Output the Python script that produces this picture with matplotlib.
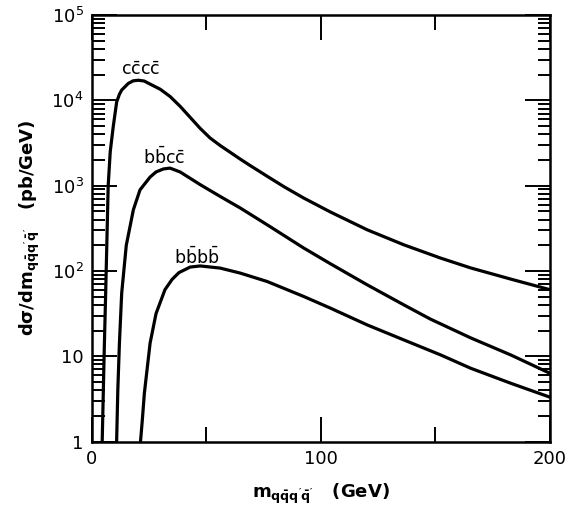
import numpy as np
import matplotlib
matplotlib.use("Agg")
import matplotlib.pyplot as plt
from matplotlib.ticker import FixedLocator, FixedFormatter, MultipleLocator, LogLocator, NullFormatter

plt.rcParams["font.family"] = ["DejaVu Sans"]
plt.rcParams["mathtext.default"] = "regular"

# curves: mass (GeV) and log10(dsigma/dm)
cccc_m = [4.4, 4.9, 5.4, 6.0, 7.1, 8.0, 9.3, 10.8, 12.0, 13.0, 15.9, 18.0, 20.3, 22.8, 25.4, 29.8, 34.1,
          38.5, 42.9, 47.3, 51.6, 56.0, 60.4, 64.8, 69.1, 76.5, 84.0, 92.5, 104.2, 120.2, 136.2,
          152.3, 165.4, 182.9, 200.0]
cccc_log = [-0.1, 0.5, 1.1, 1.74, 3.0, 3.4, 3.69, 3.98, 4.07, 4.12, 4.198, 4.228, 4.235, 4.226, 4.19, 4.13, 4.045,
            3.93, 3.80, 3.67, 3.558, 3.47, 3.39, 3.31, 3.235, 3.11, 2.985, 2.854, 2.69, 2.482, 2.306,
            2.15, 2.035, 1.904, 1.78]

bbcc_m = [10.7, 11.3, 12.0, 13.0, 15.0, 18.1, 21.0, 25.4, 28.0, 31.2, 34.1, 38.5, 47.3, 56.0, 64.8,
          76.5, 92.5, 104.2, 120.2, 136.2, 147.9, 165.4, 182.9, 200.0]
bbcc_log = [-0.1, 0.6, 1.15, 1.74, 2.3, 2.717, 2.95, 3.10, 3.16, 3.195, 3.205, 3.16, 3.011, 2.873, 2.737,
            2.541, 2.268, 2.083, 1.837, 1.602, 1.434, 1.215, 1.015, 0.80]

bbbb_m = [20.9, 22.0, 22.9, 25.4, 28.0, 31.9, 35.0, 38.0, 42.9, 47.3, 56.0, 64.8, 76.5, 92.5, 104.2,
          120.2, 136.2, 152.3, 165.4, 182.9, 200.0]
bbbb_log = [-0.1, 0.25, 0.566, 1.153, 1.5, 1.78, 1.90, 1.98, 2.045, 2.058, 2.033, 1.974, 1.876, 1.70,
            1.563, 1.367, 1.191, 1.015, 0.859, 0.683, 0.52]

labels = [r"$c\bar{c}c\bar{c}$", r"$b\bar{b}c\bar{c}$", r"$b\bar{b}b\bar{b}$"]
label_m = [21.4, 31.7, 45.7]
label_log = [4.35, 3.33, 2.166]

y_ticks = [1, 10, 1e2, 1e3, 1e4, 1e5]
y_ticklabels = ["1", "10", r"$10^2$", r"$10^3$", r"$10^4$", r"$10^5$"]
x_ticks = [0, 100, 200]

fig = plt.figure(figsize=(5.71, 5.15), dpi=100)
ax = fig.add_axes([0.161, 0.1427, 0.802, 0.8282])

for m, lg in [(cccc_m, cccc_log), (bbcc_m, bbcc_log), (bbbb_m, bbbb_log)]:
    ax.plot(m, 10 ** np.array(lg), color="black", lw=2.3, solid_joinstyle="round")

for t, m, lg in zip(labels, label_m, label_log):
    ax.text(m, 10 ** lg, t, fontsize=12.5, ha="center", va="center")

ax.set_yscale("log")
ax.set_xlim(0, 200)
ax.set_ylim(1, 1e5)

ax.yaxis.set_major_locator(FixedLocator(y_ticks))
ax.yaxis.set_major_formatter(FixedFormatter(y_ticklabels))
ax.yaxis.set_minor_locator(LogLocator(base=10, subs=np.arange(2, 10), numticks=20))
ax.yaxis.set_minor_formatter(NullFormatter())
ax.xaxis.set_major_locator(FixedLocator(x_ticks))
ax.xaxis.set_minor_locator(MultipleLocator(50))

ax.tick_params(which="both", direction="in", top=True, right=True, width=1.4, labelsize=13)
ax.tick_params(which="major", length=18, pad=6)
ax.tick_params(which="minor", length=9)
ax.tick_params(axis="x", which="minor", length=11)
for s in ax.spines.values():
    s.set_linewidth(1.8)

ax.set_xlabel(r"$m_{q\bar{q}q'\bar{q}'}$   (GeV)", fontsize=13, fontweight="bold", labelpad=10)
ax.set_ylabel(r"$d\sigma/dm_{q\bar{q}q'\bar{q}'}$   (pb/GeV)", fontsize=13, fontweight="bold", labelpad=7)

fig.savefig("out.png", dpi=100)
